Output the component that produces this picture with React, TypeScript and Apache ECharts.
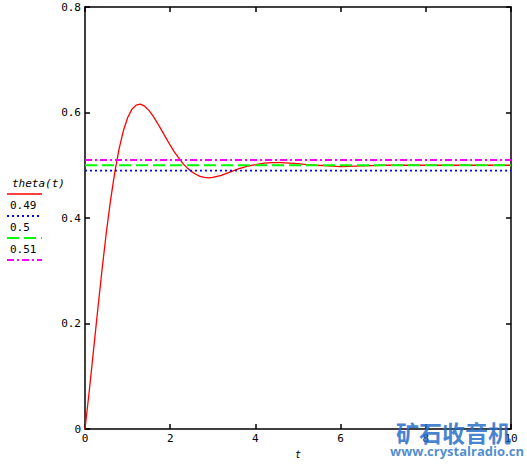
import React, { useEffect, useRef } from "react";
import * as echarts from "echarts";

const tValues = [
  0, 0.1, 0.2, 0.3, 0.4, 0.5, 0.6, 0.7, 0.8, 0.9, 1.0, 1.1, 1.2, 1.3, 1.4, 1.5,
  1.6, 1.7, 1.8, 1.9, 2.0, 2.1, 2.2, 2.3, 2.4, 2.5, 2.6, 2.7, 2.8, 2.9, 3.0,
  3.2, 3.4, 3.6, 3.8, 4.0, 4.2, 4.4, 4.6, 4.8, 5.0, 5.2, 5.4, 5.6, 5.8, 6.0,
  6.2, 6.5, 7.0, 7.5, 8.0, 8.5, 9.0, 9.5, 10.0,
];
const thetaValues = [
  0, 0.072, 0.149, 0.227, 0.302, 0.372, 0.434, 0.487, 0.531, 0.565, 0.59,
  0.606, 0.614, 0.616, 0.612, 0.604, 0.593, 0.58, 0.566, 0.552, 0.538, 0.525,
  0.514, 0.503, 0.495, 0.488, 0.483, 0.479, 0.477, 0.476, 0.477,
  0.481, 0.487, 0.493, 0.498, 0.501, 0.504, 0.505, 0.505, 0.504, 0.503, 0.501,
  0.5, 0.4995, 0.4985, 0.4975, 0.4978, 0.499, 0.5, 0.5, 0.5, 0.5, 0.5, 0.5, 0.5,
];
const levelValues = [0.49, 0.5, 0.51];
const seriesNames = ["theta(t)", "0.49", "0.5", "0.51"];
const seriesColors = ["#ff0000", "#0000ff", "#00ff00", "#ff00ff"];
const dashPatterns: (number[] | "solid")[] = ["solid", [2, 3], [12, 5], [7, 3, 2, 3]];
const xTicks = { min: 0, max: 10, interval: 2 };
const yTicks = { min: 0, max: 0.8, interval: 0.2 };

const FONT = "'DejaVu Sans Mono', monospace";

export default function App() {
  const ref = useRef<HTMLDivElement>(null);
  useEffect(() => {
    if (!ref.current) return;
    const chart = echarts.init(ref.current, undefined, { renderer: "svg" });

    const axisCommon = {
      axisLine: { show: true, onZero: false, lineStyle: { color: "#000", width: 1.5 } },
      axisTick: { show: true, inside: true, length: 5, lineStyle: { color: "#000", width: 1.5 } },
      splitLine: { show: false },
    };

    const series: any[] = [
      {
        name: seriesNames[0],
        type: "line",
        data: tValues.map((t, i) => [t, thetaValues[i]]),
        showSymbol: false,
        lineStyle: { color: seriesColors[0], width: 1.3 },
        z: 2,
      },
      ...levelValues.map((v, i) => ({
        name: seriesNames[i + 1],
        type: "line",
        data: [
          [xTicks.min, v],
          [xTicks.max, v],
        ],
        showSymbol: false,
        lineStyle: { color: seriesColors[i + 1], width: 1.8, type: dashPatterns[i + 1] },
        z: 3,
      })),
    ];

    const legendGraphics: any[] = [];
    seriesNames.forEach((name, i) => {
      const yText = 184 + i * 22;
      const yLine = 194 + i * 22;
      legendGraphics.push({
        type: "text",
        left: i === 0 ? 12 : 10,
        top: yText - 6,
        style: {
          text: name,
          fill: "#000",
          font: i === 0 ? `italic 11px ${FONT}` : `11px ${FONT}`,
        },
      });
      legendGraphics.push({
        type: "line",
        shape: { x1: 7, y1: yLine, x2: 42, y2: yLine },
        style: {
          stroke: seriesColors[i],
          lineWidth: i === 0 ? 1.5 : 1.8,
          lineDash: dashPatterns[i] === "solid" ? null : dashPatterns[i],
        },
      });
    });

    chart.setOption({
      animation: false,
      backgroundColor: "#fff",
      grid: { left: 85, right: 16, top: 7, bottom: 33, containLabel: false },
      xAxis: [
        {
          type: "value",
          ...xTicks,
          position: "bottom",
          ...axisCommon,
          axisLabel: { color: "#000", fontFamily: FONT, fontSize: 11, margin: 4 },
          name: "t",
          nameLocation: "middle",
          nameGap: 20,
          nameTextStyle: { color: "#000", fontFamily: FONT, fontStyle: "italic", fontSize: 10 },
        },
        {
          type: "value",
          ...xTicks,
          position: "top",
          ...axisCommon,
          axisLabel: { show: false },
        },
      ],
      yAxis: [
        {
          type: "value",
          ...yTicks,
          position: "left",
          ...axisCommon,
          axisLabel: { color: "#000", fontFamily: FONT, fontSize: 11, margin: 4 },
        },
        {
          type: "value",
          ...yTicks,
          position: "right",
          ...axisCommon,
          axisLabel: { show: false },
        },
      ],
      series,
      graphic: [
        ...legendGraphics,
        {
          type: "text",
          left: 396,
          top: 420,
          z: 100,
          style: {
            text: "矿石收音机",
            fill: "rgba(40,110,200,0.85)",
            font: "bold 23px 'Noto Sans CJK SC'",
          },
        },
        {
          type: "text",
          left: 390,
          top: 444,
          z: 100,
          style: {
            text: "www.crystalradio.cn",
            fill: "rgba(50,120,200,0.85)",
            font: "bold 13px 'Open Sans', sans-serif",
          },
        },
      ],
    });
    return () => chart.dispose();
  }, []);
  return (
    <div
      ref={ref}
      style={{ position: "absolute", left: 0, top: 0, width: 527, height: 464 }}
    />
  );
}
